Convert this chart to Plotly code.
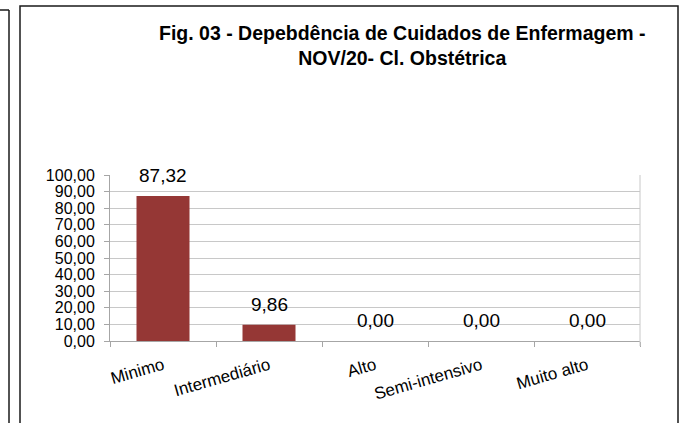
import plotly.graph_objects as go

categories = ["Minimo", "Intermediário", "Alto", "Semi-intensivo", "Muito alto"]
values = [87.32, 9.86, 0.00, 0.00, 0.00]
y_ticks = [0, 10, 20, 30, 40, 50, 60, 70, 80, 90, 100]
title_lines = ["Fig. 03 - Depebdência de Cuidados de Enfermagem -", "NOV/20- Cl. Obstétrica"]

W, H = 683, 423
L, R, T, B = 110, 43, 175, 82
FONT = "Liberation Sans, Arial, sans-serif"

pw = W - L - R
ph = H - T - B

def px_x(px):
    return (px - L) / pw

def px_y(py):
    return (H - B - py) / ph

fig = go.Figure()
fig.add_trace(go.Bar(
    x=categories, y=values,
    marker=dict(color="#953735", line=dict(width=0)),
    hoverinfo="skip",
))

annotations = []
for c, v in zip(categories, values):
    annotations.append(dict(
        x=c, y=v, xref="x", yref="y",
        text=f"{v:.2f}".replace(".", ","),
        showarrow=False, yanchor="bottom", yshift=8,
        font=dict(family=FONT, size=19, color="#000000"),
    ))

annotations.append(dict(
    x=px_x(402), y=px_y(45), xref="paper", yref="paper",
    text="<b>" + "<br>".join(title_lines) + "</b>",
    showarrow=False, xanchor="center", yanchor="middle", align="center",
    font=dict(family=FONT, size=19.5, color="#000000"),
))

shapes = [
    # main chart border
    dict(type="rect", xref="paper", yref="paper",
         x0=px_x(20), x1=px_x(678), y0=px_y(440), y1=px_y(6),
         line=dict(color="#1a1a1a", width=1.5), layer="above"),
    # neighbouring chart border (left)
    dict(type="line", xref="paper", yref="paper",
         x0=px_x(9), x1=px_x(9), y0=px_y(10), y1=px_y(440),
         line=dict(color="#1a1a1a", width=1.5)),
    dict(type="line", xref="paper", yref="paper",
         x0=px_x(-5), x1=px_x(9), y0=px_y(10), y1=px_y(10),
         line=dict(color="#1a1a1a", width=1.5)),
    # plot area right edge
    dict(type="line", xref="paper", yref="paper",
         x0=1, x1=1, y0=px_y(346), y1=1,
         line=dict(color="#c8c8c8", width=1)),
]

fig.update_layout(
    width=W, height=H,
    margin=dict(l=L, r=R, t=T, b=B, autoexpand=False),
    paper_bgcolor="#ffffff", plot_bgcolor="#ffffff",
    separators=",.",
    showlegend=False,
    bargap=0.5,
    annotations=annotations,
    shapes=shapes,
    font=dict(family=FONT, color="#000000"),
)

fig.update_xaxes(
    type="category",
    showline=True, linecolor="#a6a6a6", linewidth=1,
    ticks="outside", tickson="boundaries", ticklen=5, tickcolor="#a6a6a6",
    tickangle=-16, ticklabelstandoff=7,
    tickfont=dict(family=FONT, size=17, color="#000000"),
    showgrid=False, automargin=False,
)
fig.update_yaxes(
    range=[0, 100],
    tickvals=y_ticks, tickformat=".2f",
    showline=True, linecolor="#a6a6a6", linewidth=1,
    ticks="outside", ticklen=5, tickcolor="#a6a6a6",
    ticklabelstandoff=6,
    showgrid=True, gridcolor="#c8c8c8", gridwidth=1,
    zeroline=False,
    tickfont=dict(family=FONT, size=16, color="#000000"),
    automargin=False,
)

fig.write_html(
    "out.html",
    config={"displayModeBar": False, "staticPlot": True},
    post_script="document.body.style.margin='0';document.body.style.padding='0';document.body.style.overflow='hidden';",
)
